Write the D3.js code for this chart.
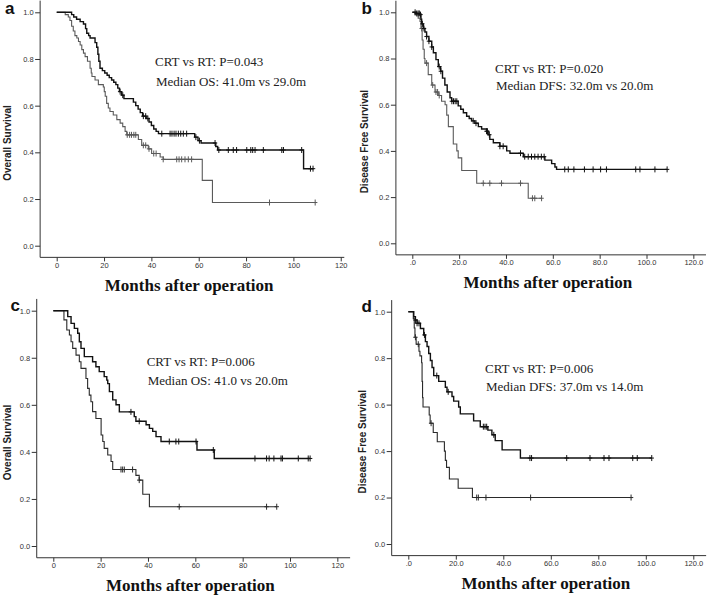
<!DOCTYPE html>
<html>
<head>
<meta charset="utf-8">
<script src="https://d3js.org/d3.v7.min.js"></script>
<style>
    body { margin: 0; background: #fff; }
    svg { display: block; }
    .tick text { font: 7.5px Arial, "Liberation Sans", sans-serif; fill: #333; }
    .tick line { stroke: #333; }
    .axisline { stroke: #333; stroke-width: 1; }
    .ylab { font: bold 10px Arial, "Liberation Sans", sans-serif; fill: #222; }
    .letter { font: bold 17px Arial, "Liberation Sans", sans-serif; fill: #111; }
    .xtitle { font: bold 17px "Times New Roman", "Liberation Serif", serif; fill: #111; }
    .note { font: 13px "Times New Roman", "Liberation Serif", serif; fill: #222; }
</style>
</head>
<body>
<div id="chart"></div>
<script>

// Kaplan-Meier steps: [month, survival after the drop]; censor marks as months

// (a) overall survival, all patients
var osAllCRT = [[0,1],[6.3,0.99],[7.2,0.98],[8.4,0.97],[9.9,0.96],[11.3,0.95],[12.2,0.93],[12.7,0.91],
    [13.5,0.90],[14.1,0.89],[16.2,0.87],[16.9,0.85],[17.4,0.82],[17.8,0.79],[18.3,0.76],[19.3,0.75],
    [20.3,0.74],[21.3,0.73],[22.2,0.72],[23.2,0.71],[24.1,0.70],[25,0.69],[25.8,0.675],[26.5,0.66],
    [27.4,0.645],[28.4,0.63],[32.4,0.615],[33.4,0.60],[34.4,0.585],[35.3,0.57],[36.3,0.555],[37.8,0.545],
    [39,0.53],[40,0.515],[41,0.50],[42,0.49],[43,0.48],[58.3,0.465],[59.7,0.45],[61,0.44],[67.2,0.425],
    [68,0.41],[104.3,0.33],[108.5,0.33]];
var osAllCRTCens = [26.8,27.9,36.6,37.6,38.5,44.4,47.9,48.7,49.6,50.4,51.4,52.4,53.5,54.9,58.8,60.3,
    66.9,68.5,72.5,74.6,76,80.3,82,82.8,83.8,87.3,95.1,95.8,103.5,107.2,108.3];
var osAllRT = [[0,1],[3.6,0.99],[4.9,0.98],[5.6,0.965],[6.3,0.94],[7,0.92],[7.7,0.90],[8.5,0.89],
    [9.2,0.875],[9.9,0.86],[10.6,0.84],[11.3,0.825],[12,0.81],[13,0.79],[14.1,0.76],[14.6,0.74],
    [14.9,0.725],[16.2,0.71],[17.6,0.69],[19.7,0.68],[20.1,0.66],[20.5,0.64],[21.1,0.61],[21.8,0.59],
    [22.5,0.575],[23.9,0.56],[25.4,0.54],[26.8,0.525],[27.9,0.51],[28.9,0.49],[29.6,0.475],[34.5,0.455],
    [35.9,0.43],[38.7,0.415],[40.1,0.395],[43.7,0.38],[45,0.37],[61.5,0.28],[65.8,0.185],[109.9,0.185]];
var osAllRTCens = [29.8,30.8,31.6,32.6,33.4,36.6,37.6,39,41,42,45,50.7,51.7,52.8,54.2,55.6,57,89.9,109.2];

// (b) disease free survival, all patients
var dfsAllCRT = [[0,1],[1.8,0.995],[3.3,0.99],[3.7,0.97],[4,0.95],[4.7,0.93],[5.4,0.915],[6.1,0.895],
    [7.1,0.875],[8.3,0.85],[9,0.825],[10.1,0.795],[11.1,0.765],[12.1,0.745],[12.9,0.715],[13.9,0.685],
    [14.9,0.655],[16.1,0.63],[16.8,0.615],[19.6,0.595],[20.7,0.58],[21.8,0.565],[23.2,0.55],[24.3,0.54],
    [25.3,0.53],[26.7,0.52],[28.2,0.505],[29.6,0.495],[31.7,0.485],[32.4,0.47],[33.1,0.45],[34.6,0.435],
    [37.4,0.42],[40.3,0.40],[41.7,0.39],[47.4,0.375],[56.6,0.36],[59.5,0.345],[60.9,0.33],[61.6,0.32],
    [108.8,0.32]];
var dfsAllCRTCens = [1.2,1.9,2.5,3.0,3.5,4.3,5.0,6.1,7.1,8.3,11.5,12.2,16.9,17.6,18.3,19,26,27.2,31.7,
    32.1,32.9,37.4,38.8,46.2,48,49.5,50.9,52.3,53.7,55.1,56.3,65.1,66.6,69,73.5,77.2,80.4,82.9,95.4,97.2,
    103.6,108.8];
var dfsAllRT = [[0,1],[1.2,0.99],[2.5,0.975],[3.3,0.96],[3.7,0.93],[4.2,0.88],[4.6,0.84],[5.1,0.80],
    [5.4,0.78],[6.8,0.73],[8.3,0.685],[9.7,0.655],[11.1,0.64],[12.5,0.615],[14,0.60],[14.7,0.555],
    [15.4,0.505],[17.5,0.43],[19,0.40],[19.6,0.37],[21.1,0.315],[27.5,0.26],[49.5,0.195],[55.2,0.195]];
var dfsAllRTCens = [4,6.1,8.7,10.1,10.8,11.5,30.3,33.1,38.1,46.2,51.3,52.3,55.2];

// (c) overall survival, subgroup
var osSubCRT = [[0,1],[6.1,0.975],[7.5,0.946],[8.9,0.925],[10.3,0.904],[11,0.868],[11.7,0.84],
    [13.1,0.805],[16.6,0.783],[18,0.762],[19.4,0.741],[21.5,0.72],[22.6,0.705],[23,0.69],[23.7,0.656],
    [25.1,0.621],[26.5,0.6],[27.9,0.57],[34.2,0.55],[34.9,0.53],[39.2,0.515],[40.6,0.5],[42,0.487],
    [43.4,0.465],[45.5,0.444],[60.7,0.408],[68,0.372],[108.5,0.372]];
var osSubCRTCens = [32.8,36.3,49,51.8,53,60.3,67.6,85.2,90.1,91.2,93.2,96.2,96.8,103.5,107.7,108.5];
var osSubRT = [[0,1],[4.5,0.961],[5.7,0.918],[6.8,0.897],[7.5,0.868],[8.2,0.84],[9.6,0.811],[11,0.783],
    [11.7,0.755],[13.8,0.712],[14.5,0.67],[15.2,0.641],[15.9,0.613],[16.6,0.571],[18,0.542],[20.2,0.472],
    [20.9,0.444],[21.5,0.415],[23,0.387],[24.4,0.359],[25.1,0.325],[34.9,0.3],[36.3,0.28],[37.8,0.22],
    [40.6,0.167],[94.4,0.167]];
var osSubRTCens = [28.6,29.3,30,33.5,36.3,53.2,90.1,94.4];

// (d) disease free survival, subgroup
var dfsSubCRT = [[0,1],[2.3,0.978],[3,0.964],[3.7,0.95],[5.1,0.928],[6.5,0.90],[7.2,0.871],[7.9,0.85],
    [8.6,0.82],[9.3,0.79],[10,0.76],[10.7,0.725],[12.8,0.70],[15.6,0.675],[16.3,0.655],[18.4,0.635],
    [19.1,0.615],[21.2,0.59],[21.9,0.56],[27.5,0.53],[30.3,0.505],[33.5,0.49],[35.2,0.47],[36.6,0.445],
    [39.5,0.405],[47.2,0.37],[102.5,0.37]];
var dfsSubCRTCens = [3,3.7,4.5,6.8,12,16.8,31.6,32.3,33,36,51.2,51.9,66.7,76.5,82.4,84.5,94.5,96.4,102.5];
var dfsSubRT = [[0,1],[2.1,0.97],[2.5,0.93],[2.8,0.89],[3.3,0.86],[4.5,0.83],[4.9,0.81],[5.6,0.78],
    [5.8,0.70],[6,0.63],[6.2,0.59],[8.8,0.555],[9.2,0.52],[10.5,0.48],[12.2,0.44],[15.2,0.40],[15.6,0.36],
    [16.1,0.33],[17.3,0.28],[21,0.24],[27,0.2],[93.8,0.2]];
var dfsSubRTCens = [3,4.2,9.6,28.8,29.5,32.7,51.5,93.8];

// axis ticks and labels
var xTicks = [0, 20, 40, 60, 80, 100, 120];
var yTicks = [0, 0.2, 0.4, 0.6, 0.8, 1.0];
var panelLetters = ["a", "b", "c", "d"];
var yTitles = ["Overall Survival", "Disease Free Survival", "Overall Survival", "Disease Free Survival"];
var notes = [
    ["CRT vs RT: P=0.043", "Median OS: 41.0m vs 29.0m"],
    ["CRT vs RT: P=0.020", "Median DFS: 32.0m vs 20.0m"],
    ["CRT vs RT: P=0.006", "Median OS: 41.0 vs 20.0m"],
    ["CRT vs RT: P=0.006", "Median DFS: 37.0m vs 14.0m"]
];

// panel placement (pixel of month 0 / survival 0, pixels per unit)
var panels = [
    {ox: 56.7, kx: 2.367, oy: 245.7, ky: 233.4, xEnd: 121.5, decimals: false, crt: osAllCRT, crtC: osAllCRTCens,
     rt: osAllRT, rtC: osAllRTCens, rtColor: "#5a5a5a", letter: [5, 13.5], ylabX: 11, note: [155, 66, 85.5]},
    {ox: 412.3, kx: 2.342, oy: 243.3, ky: 231, xEnd: 125.4, decimals: true, crt: dfsAllCRT, crtC: dfsAllCRTCens,
     rt: dfsAllRT, rtC: dfsAllRTCens, rtColor: "#5a5a5a", letter: [361.5, 14], ylabX: 367.5, note: [495, 73, 89.5]},
    {ox: 53.3, kx: 2.367, oy: 546, ky: 235.3, xEnd: 125.4, decimals: false, crt: osSubCRT, crtC: osSubCRTCens,
     rt: osSubRT, rtC: osSubRTCens, rtColor: "#2a2a2a", letter: [10.5, 310.5], ylabX: 11, note: [146.7, 366, 385]},
    {ox: 408.3, kx: 2.375, oy: 544, ky: 232.3, xEnd: 125.4, decimals: true, crt: dfsSubCRT, crtC: dfsSubCRTCens,
     rt: dfsSubRT, rtC: dfsSubRTCens, rtColor: "#2a2a2a", letter: [361.5, 311.5], ylabX: 366, note: [485, 373, 391]}
];

var svg = d3.select("#chart").append("svg")
    .attr("width", 709)
    .attr("height", 596);

// survival value of a step curve at month t
function survAt(steps, t) {
    var s = 1;
    steps.forEach(function(d) { if (d[0] <= t) s = d[1]; });
    return s;
}

panels.forEach(function(p, i) {
    var g = svg.append("g");
    var x = d3.scaleLinear().domain([0, 120]).range([p.ox, p.ox + 120 * p.kx]);
    var y = d3.scaleLinear().domain([0, 1]).range([p.oy, p.oy - p.ky]);
    var xFmt = p.decimals ? function(d) { return d === 0 ? ".0" : d.toFixed(1); } : d3.format("d");

    // axis lines
    g.append("line").attr("class", "axisline")
        .attr("x1", x(-7)).attr("x2", x(-7))
        .attr("y1", y(1.05)).attr("y2", y(-0.05));
    g.append("line").attr("class", "axisline")
        .attr("x1", x(-7)).attr("x2", x(p.xEnd))
        .attr("y1", y(-0.05)).attr("y2", y(-0.05));

    g.append("g")
        .attr("transform", "translate(" + x(-7) + ",0)")
        .call(d3.axisLeft(y).tickValues(yTicks).tickSize(5).tickPadding(1.5).tickFormat(d3.format(".1f")))
        .call(function(a) { a.select(".domain").remove(); });

    g.append("g")
        .attr("transform", "translate(0," + y(-0.05) + ")")
        .call(d3.axisBottom(x).tickValues(xTicks).tickSize(4).tickPadding(1).tickFormat(xFmt))
        .call(function(a) { a.select(".domain").remove(); });

    // titles and labels
    g.append("text").attr("class", "xtitle")
        .attr("x", (x(-7) + x(p.xEnd)) / 2 - 3)
        .attr("y", y(-0.05) + 33.5)
        .attr("text-anchor", "middle")
        .text("Months after operation");

    g.append("text").attr("class", "ylab")
        .attr("transform", "translate(" + p.ylabX + "," + y(0.44) + ") rotate(-90)")
        .attr("text-anchor", "middle")
        .text(yTitles[i]);

    g.append("text").attr("class", "letter")
        .attr("x", p.letter[0]).attr("y", p.letter[1])
        .text(panelLetters[i]);

    g.append("text").attr("class", "note")
        .attr("x", p.note[0]).attr("y", p.note[1]).text(notes[i][0]);
    g.append("text").attr("class", "note")
        .attr("x", p.note[0] + 1).attr("y", p.note[2]).text(notes[i][1]);

    // curves (RT first, CRT on top)
    var line = d3.line()
        .x(function(d) { return x(d[0]); })
        .y(function(d) { return y(d[1]); })
        .curve(d3.curveStepAfter);

    var series = [
        {steps: p.rt, cens: p.rtC, color: p.rtColor, width: 1.1},
        {steps: p.crt, cens: p.crtC, color: "#111", width: 1.4}
    ];

    series.forEach(function(s) {
        g.append("path")
            .attr("d", line(s.steps))
            .attr("fill", "none")
            .attr("stroke", s.color)
            .attr("stroke-width", s.width);

        // censor "+" marks
        g.selectAll(null)
            .data(s.cens)
            .enter()
            .append("path")
            .attr("d", function(t) {
                var cx = x(t), cy = y(survAt(s.steps, t));
                return "M" + cx + "," + (cy - 3) + "V" + (cy + 3) +
                    "M" + (cx - 2.2) + "," + cy + "H" + (cx + 2.2);
            })
            .attr("stroke", s.color)
            .attr("stroke-width", 1);
    });
});

</script>
</body>
</html>
